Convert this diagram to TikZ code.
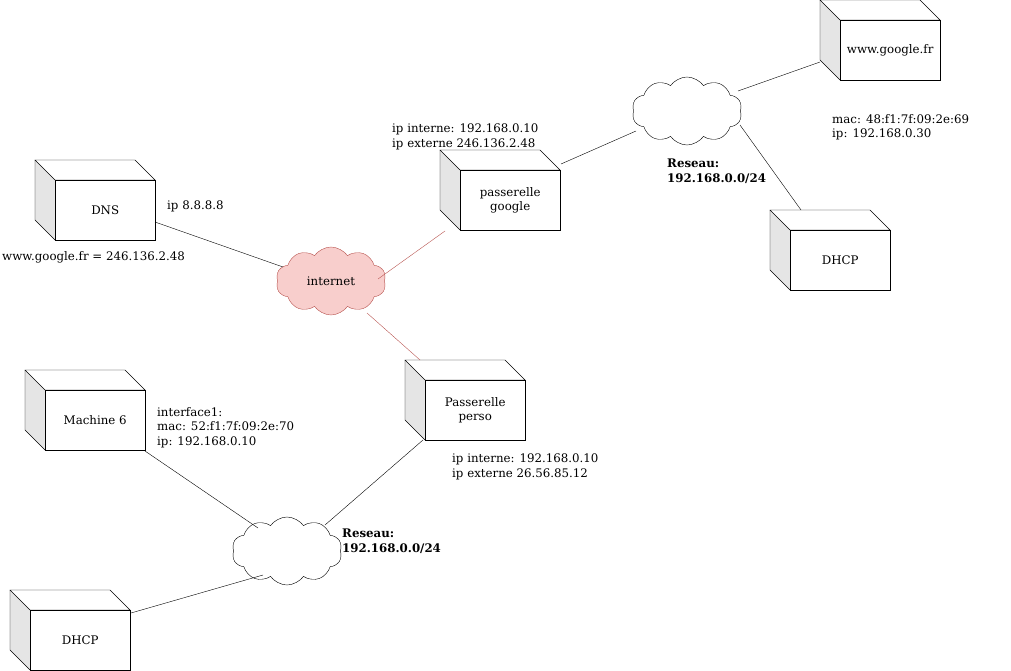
\documentclass[tikz,border=0pt]{standalone}
\usepackage{fontspec}
\setmainfont{DejaVu Serif}
\usetikzlibrary{shapes.symbols}
\definecolor{pinkf}{HTML}{F8CECC}
\definecolor{pinkd}{HTML}{B85450}
\begin{document}
\begin{tikzpicture}[x=1pt,y=-1pt,font=\fontsize{11.8}{14.5}\selectfont,
  lbl/.style={anchor=north west,align=left,inner sep=0pt},
  cl/.style={cloud,cloud puffs=10,cloud puff arc=110,aspect=1.5,draw,minimum width=#1,minimum height=68,inner sep=0pt}]
\useasboundingbox (0,0) rectangle (1011,671);
\newcommand{\cube}[4]{%
  \fill[gray!20] (#1,#2) -- (#1+20,#2+20) -- (#1+20,#2+80) -- (#1,#2+60) -- cycle;
  \draw (#1,#2) -- (#1+100,#2) -- (#1+120,#2+20) -- (#1+20,#2+20) -- cycle;
  \draw (#1,#2) -- (#1,#2+60) -- (#1+20,#2+80);
  \node[draw,minimum width=100,minimum height=60,inner sep=0pt,align=center,anchor=north west] (#3) at (#1+20,#2+20) {#4};}
\cube{820}{0}{google}{www.google.fr}
\cube{440}{150}{pgoogle}{passerelle\\google}
\cube{35}{160}{dns}{DNS}
\cube{770}{210}{dhcpr}{DHCP}
\cube{25}{370}{m6}{Machine 6}
\cube{405}{360}{pperso}{Passerelle\\perso}
\cube{10}{590}{dhcpb}{DHCP}
\node[cl=110] (c1) at (687,111) {};
\node[cl=110,fill=pinkf,draw=pinkd] (inet) at (331,281) {internet};
\node[cl=110] (c2) at (287,551) {};
\coordinate (a1) at (155,222); \coordinate (a2) at (283,267);
\coordinate (b1) at (378,279); \coordinate (b2) at (445,231);
\coordinate (d1) at (367,313); \coordinate (d2) at (420,360);
\coordinate (e1) at (561,164); \coordinate (e2) at (636,131);
\coordinate (f1) at (738,91); \coordinate (f2) at (820,62);
\coordinate (g1) at (740,125); \coordinate (g2) at (801,210);
\coordinate (h1) at (145,451); \coordinate (h2) at (258,528);
\coordinate (i1) at (423,440); \coordinate (i2) at (325,525);
\coordinate (j1) at (131,613); \coordinate (j2) at (263,575);
\draw (a1)--(a2); \draw[pinkd] (b1)--(b2); \draw[pinkd] (d1)--(d2);
\draw (e1)--(e2); \draw (f1)--(f2); \draw (g1)--(g2);
\draw (h1)--(h2); \draw (i1)--(i2); \draw (j1)--(j2);
\node[lbl] (t1) at (167,201) {ip 8.8.8.8};
\node[lbl] (t2) at (2,251) {www.google.fr = 246.136.2.48};
\node[lbl] (t3) at (392,124) {ip interne: 192.168.0.10\\ip externe 246.136.2.48};
\node[lbl] (t4) at (832,114) {mac: 48:f1:7f:09:2e:69\\ip: 192.168.0.30};
\node[lbl,font=\fontsize{11.8}{14.5}\selectfont\bfseries] (t5) at (667,159) {Reseau:\\192.168.0.0/24};
\node[lbl] (t6) at (157,407) {interface1:\\mac: 52:f1:7f:09:2e:70\\ip: 192.168.0.10};
\node[lbl] (t7) at (452,454) {ip interne: 192.168.0.10\\ip externe 26.56.85.12};
\node[lbl,font=\fontsize{11.8}{14.5}\selectfont\bfseries] (t8) at (342,529) {Reseau:\\192.168.0.0/24};
\end{tikzpicture}
\end{document}
